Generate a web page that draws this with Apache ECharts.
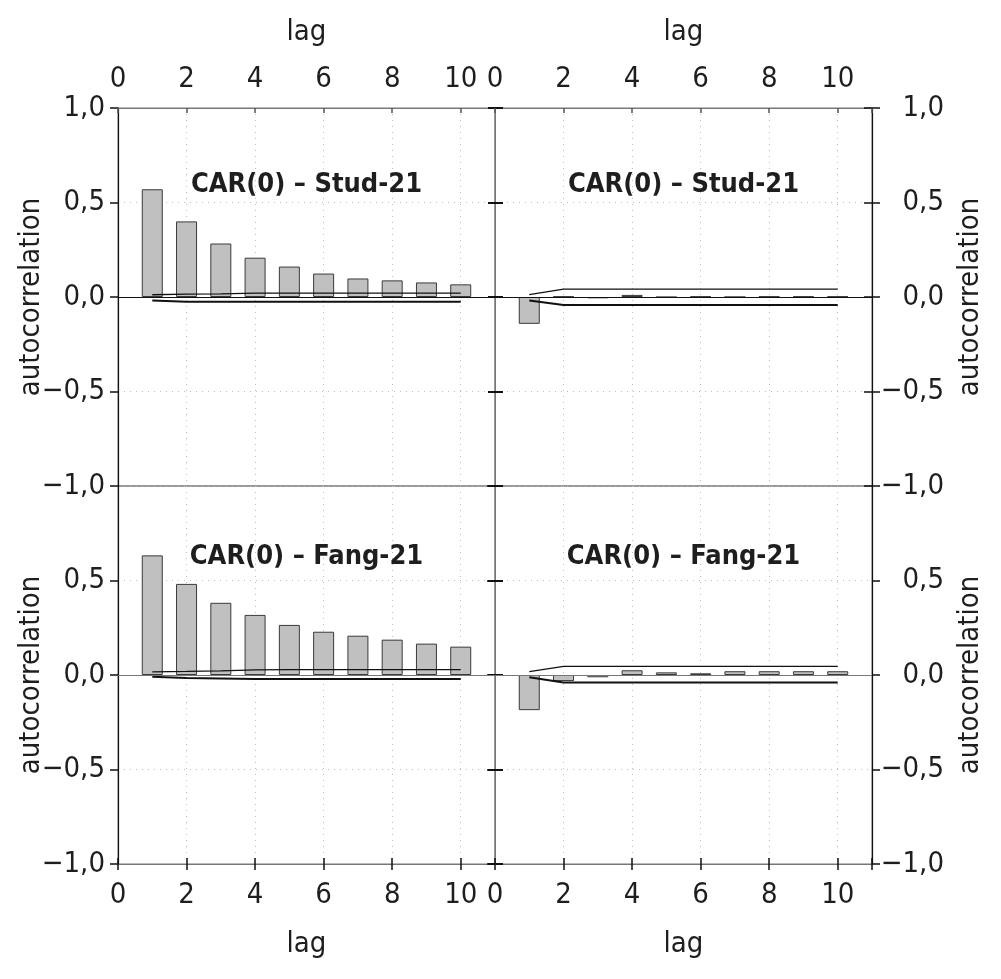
<!DOCTYPE html>
<html>
<head>
<meta charset="utf-8">
<script src="https://cdn.jsdelivr.net/npm/echarts@6/dist/echarts.min.js"></script>
<style>
  html, body { margin: 0; padding: 0; background: #fff; }
  #chart { width: 1001px; height: 979px; }
</style>
</head>
<body>
<div id="chart"></div>
<script>
// autocorrelation panels, four grids in 2x2

const lags = [1, 2, 3, 4, 5, 6, 7, 8, 9, 10];
const yTicks = [-1, -0.5, 0, 0.5, 1];
const xTicks = [0, 2, 4, 6, 8, 10];

const titles = ['CAR(0) – Stud-21', 'CAR(0) – Stud-21', 'CAR(0) – Fang-21', 'CAR(0) – Fang-21'];

// bars
const acfStudLeft = [0.570, 0.400, 0.283, 0.208, 0.161, 0.124, 0.098, 0.088, 0.077, 0.067];
const acfStudRight = [-0.142, 0.003, -0.007, 0.011, -0.001, 0.003, 0.000, 0.003, 0.003, 0.003];
const acfFangLeft = [0.633, 0.482, 0.382, 0.318, 0.265, 0.229, 0.208, 0.187, 0.166, 0.150];
const acfFangRight = [-0.186, -0.032, -0.012, 0.025, 0.014, 0.009, 0.020, 0.020, 0.020, 0.020];

// band lines
const upStudLeft = [0.012, 0.015, 0.017, 0.020, 0.021, 0.021, 0.021, 0.021, 0.021, 0.021];
const loStudLeft = [-0.018, -0.025, -0.025, -0.025, -0.025, -0.025, -0.025, -0.025, -0.025, -0.025];
const upStudRight = [0.012, 0.042, 0.042, 0.042, 0.042, 0.042, 0.042, 0.042, 0.042, 0.042];
const loStudRight = [-0.018, -0.042, -0.042, -0.042, -0.042, -0.042, -0.042, -0.042, -0.042, -0.042];
const upFangLeft = [0.017, 0.019, 0.022, 0.027, 0.028, 0.028, 0.028, 0.028, 0.028, 0.028];
const loFangLeft = [-0.009, -0.016, -0.018, -0.021, -0.021, -0.021, -0.021, -0.021, -0.021, -0.021];
const upFangRight = [0.018, 0.046, 0.046, 0.046, 0.046, 0.046, 0.046, 0.046, 0.046, 0.046];
const loFangRight = [-0.012, -0.040, -0.040, -0.040, -0.040, -0.040, -0.040, -0.040, -0.040, -0.040];

const bars = [acfStudLeft, acfStudRight, acfFangLeft, acfFangRight];
const ups = [upStudLeft, upStudRight, upFangLeft, upFangRight];
const los = [loStudLeft, loStudRight, loFangLeft, loFangRight];

const FONT = "'Liberation Sans Narrow', 'DejaVu Sans Condensed', 'Arial Narrow', sans-serif";
const TXT = '#1e1e1e';

const panels = [
  { left: 118, top: 108 },
  { left: 495, top: 108 },
  { left: 118, top: 486 },
  { left: 495, top: 486 }
];
const PW = 377, PH = 378;

const fmtY = v => (v < 0 ? '\u2212' : '') + Math.abs(v).toFixed(1).replace('.', ',');
const fmtX = v => (xTicks.indexOf(v) >= 0 ? String(v) : '');

const chart = echarts.init(document.getElementById('chart'));

const grid = panels.map(p => ({
  left: p.left, top: p.top, width: PW, height: PH,
  show: true, borderColor: '#777', borderWidth: 1
}));

const dotted = { show: true, lineStyle: { color: '#bdbdbd', type: [1, 5], width: 1 } };

function xAx(g, pos, withLabel, inside) {
  const top = pos === 'top';
  return {
    type: 'value', gridIndex: g, position: pos, min: 0, max: 11, interval: 2,
    name: withLabel ? 'lag' : '', nameLocation: 'middle',
    nameGap: top ? 61 : 66, nameMoveOverlap: false,
    nameTextStyle: { fontFamily: FONT, fontSize: 29, color: TXT },
    axisLine: { show: withLabel, onZero: false, lineStyle: { color: '#777', width: 1 } },
    axisTick: { show: true, inside: top || inside, length: top ? 5 : 6,
      lineStyle: { color: top ? '#555' : '#111', width: 1.5 } },
    axisLabel: { show: withLabel, formatter: fmtX, margin: top ? 14 : 17,
      fontFamily: FONT, fontSize: 29, color: TXT },
    splitLine: withLabel ? dotted : { show: false }
  };
}

function yAx(g, pos, opts) {
  return Object.assign({
    type: 'value', gridIndex: g, position: pos, min: -1, max: 1, interval: 0.5,
    name: '', nameLocation: 'middle', nameRotate: 90, nameMoveOverlap: false,
    nameTextStyle: { fontFamily: FONT, fontSize: 29, color: TXT },
    axisLine: { show: true, onZero: false, lineStyle: { color: '#111', width: 1.2 } },
    axisTick: { show: true, inside: false, length: 8, lineStyle: { color: '#111', width: 1.5 } },
    axisLabel: { show: false },
    splitLine: { show: false }
  }, opts);
}

const xAxis = [
  xAx(0, 'top', true), xAx(1, 'top', true),
  xAx(2, 'bottom', true), xAx(3, 'bottom', true),
  // inner half of the bottom ticks
  xAx(2, 'bottom', false, true), xAx(3, 'bottom', false, true)
];

const yLabel = (m, align, hideMax) => ({
  show: true, formatter: fmtY, margin: m, align: align,
  fontFamily: FONT, fontSize: 29, color: TXT, showMaxLabel: !hideMax
});

const yAxis = [
  yAx(0, 'left', { name: 'autocorrelation', nameGap: 72, axisLabel: yLabel(13, 'right', false), splitLine: dotted }),
  yAx(1, 'right', { name: 'autocorrelation', nameGap: 84, axisLabel: yLabel(72, 'right', false), splitLine: dotted }),
  yAx(2, 'left', { name: 'autocorrelation', nameGap: 72, axisLabel: yLabel(13, 'right', true), splitLine: dotted }),
  yAx(3, 'right', { name: 'autocorrelation', nameGap: 84, axisLabel: yLabel(72, 'right', true), splitLine: dotted }),
  // tick decorations on the inner edges
  yAx(1, 'left', { axisLine: { show: true, onZero: false, lineStyle: { color: '#777', width: 1 } }, axisTick: { length: 7, lineStyle: { color: '#111', width: 2 } } }),
  yAx(1, 'left', { axisLine: { show: false }, axisTick: { inside: true, length: 8, lineStyle: { color: '#111', width: 2 } } }),
  yAx(3, 'left', { axisLine: { show: true, onZero: false, lineStyle: { color: '#777', width: 1 } }, axisTick: { length: 7, lineStyle: { color: '#111', width: 2 } } }),
  yAx(3, 'left', { axisLine: { show: false }, axisTick: { inside: true, length: 8, lineStyle: { color: '#111', width: 2 } } }),
  yAx(1, 'right', { axisLine: { show: false }, axisTick: { inside: true, length: 8, lineStyle: { color: '#111', width: 1.5 } } }),
  yAx(3, 'right', { axisLine: { show: false }, axisTick: { inside: true, length: 8, lineStyle: { color: '#111', width: 1.5 } } })
];

const series = [];
bars.forEach((vals, i) => {
  series.push({
    type: 'bar', xAxisIndex: i, yAxisIndex: i,
    data: lags.map((l, k) => [l, vals[k]]),
    barWidth: 21,
    itemStyle: { color: '#c0c0c0', borderColor: '#3a3a3a', borderWidth: 1 },
    silent: true,
    markLine: {
      silent: true, symbol: 'none', label: { show: false },
      lineStyle: { color: i < 2 ? '#111' : '#777', type: 'solid', width: 1.2 },
      data: [{ yAxis: 0 }]
    },
    z: 2
  });
  series.push({
    type: 'line', xAxisIndex: i, yAxisIndex: i,
    data: lags.map((l, k) => [l, ups[i][k]]),
    symbol: 'none', lineStyle: { color: '#111', width: 1.3 }, z: 3
  });
  series.push({
    type: 'line', xAxisIndex: i, yAxisIndex: i,
    data: lags.map((l, k) => [l, los[i][k]]),
    symbol: 'none', lineStyle: { color: '#111', width: 2 }, z: 3
  });
});

const graphic = panels.map((p, i) => ({
  type: 'text',
  x: p.left + PW / 2,
  y: p.top + (i < 2 ? 77 : 71),
  z: 10,
  style: {
    text: titles[i],
    font: 'bold 27px ' + FONT,
    fill: TXT,
    align: 'center',
    verticalAlign: 'middle'
  }
}));

chart.setOption({
  animation: false,
  backgroundColor: '#fff',
  grid: grid,
  xAxis: xAxis,
  yAxis: yAxis,
  series: series,
  graphic: graphic
});
</script>
</body>
</html>
